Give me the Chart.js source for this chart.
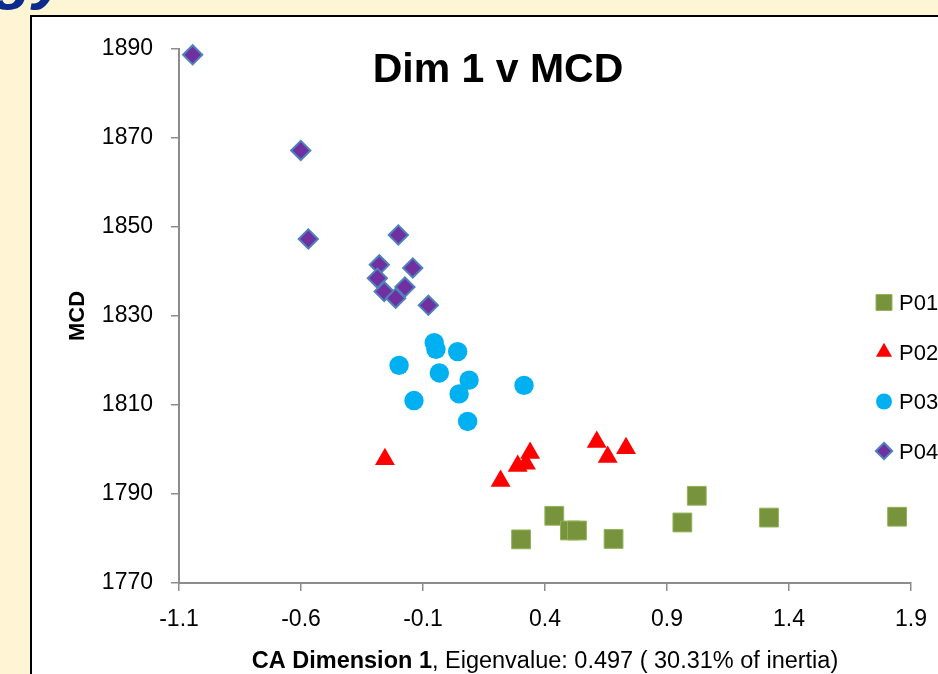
<!DOCTYPE html>
<html><head><meta charset="utf-8">
<script src="https://cdn.jsdelivr.net/npm/chart.js@4.4.1/dist/chart.umd.min.js"></script>
<style>
html,body{margin:0;padding:0;width:938px;height:674px;overflow:hidden;background:#FEF5D4;}
#slideTitle{position:absolute;left:-6px;top:-57px;font:italic bold 64px 'Liberation Sans',Arial,sans-serif;line-height:64px;color:#0B2C8C;white-space:nowrap;}
#box{position:absolute;left:30px;top:15px;width:1000px;height:700px;background:#fff;border:2px solid #000;}
#c{position:absolute;left:0;top:0;}
</style></head><body>
<div id="slideTitle">gy</div>
<div id="box"></div>
<canvas id="c" width="938" height="674"></canvas>
<script>
// ---- data ----
const seriesNames = ['P01', 'P02', 'P03', 'P04'];
const p01X = [0.302, 0.438, 0.502, 0.531, 0.681, 0.963, 1.022, 1.318, 1.843];
const p01Y = [1779.8, 1785.1, 1781.8, 1781.8, 1779.9, 1783.6, 1789.6, 1784.7, 1784.9];
const p02X = [-0.256, 0.218, 0.288, 0.322, 0.339, 0.612, 0.657, 0.732];
const p02Y = [1797.8, 1792.9, 1796.3, 1796.8, 1799.2, 1801.7, 1798.3, 1800.3];
const p03X = [-0.054, -0.047, 0.042, -0.198, -0.033, 0.089, 0.048, -0.137, 0.083, 0.314];
const p03Y = [1824.0, 1822.5, 1822.0, 1818.9, 1817.2, 1815.6, 1812.5, 1811.0, 1806.3, 1814.4];
const p04X = [-1.044, -0.601, -0.570, -0.201, -0.279, -0.142, -0.287, -0.259, -0.174, -0.212, -0.078];
const p04Y = [1888.7, 1867.2, 1847.3, 1848.2, 1841.5, 1840.8, 1838.5, 1835.5, 1836.5, 1834.0, 1832.4];
const xTicks = [-1.1, -0.6, -0.1, 0.4, 0.9, 1.4, 1.9];
const yTicks = [1770, 1790, 1810, 1830, 1850, 1870, 1890];
const chartTitle = 'Dim 1 v MCD';
const yTitle = 'MCD';
const xTitleBold = 'CA Dimension 1';
const xTitleRest = ', Eigenvalue: 0.497 ( 30.31% of inertia)';

const FAM = "'Liberation Sans', Arial, sans-serif";
const pts = (xs, ys) => xs.map((x, i) => ({x: x, y: ys[i]}));

const styles = [
  {pointStyle: 'rect', pointRadius: 13.3, pointBackgroundColor: '#77933C', pointBorderColor: '#93B35A', pointBorderWidth: 1, legendRadius: 11.3, order: 3},
  {pointStyle: 'triangle', pointRadius: 11.5, pointBackgroundColor: '#FF0000', pointBorderColor: '#FF0000', pointBorderWidth: 0, legendRadius: 9.3, order: 2},
  {pointStyle: 'circle', pointRadius: 9.7, pointBackgroundColor: '#00B0F0', pointBorderColor: '#00B0F0', pointBorderWidth: 0, legendRadius: 8, order: 1},
  {pointStyle: 'rectRot', pointRadius: 9.6, pointBackgroundColor: '#7030A0', pointBorderColor: '#4F81BD', pointBorderWidth: 2, legendRadius: 8.2, order: 0}
];
const seriesData = [pts(p01X, p01Y), pts(p02X, p02Y), pts(p03X, p03Y), pts(p04X, p04Y)];

const datasets = seriesNames.map((name, i) => Object.assign({
  label: name,
  data: seriesData[i],
  showLine: false,
  clip: false,
  pointHoverRadius: styles[i].pointRadius
}, styles[i]));

function drawMarker(ctx, style, r, bw, fill, stroke, x, y) {
  ctx.beginPath();
  if (style === 'rect') {
    const s = Math.SQRT1_2 * r;
    ctx.rect(x - s, y - s, 2 * s, 2 * s);
  } else if (style === 'triangle') {
    let a = 0;
    ctx.moveTo(x + Math.sin(a) * r, y - Math.cos(a) * r);
    a += 2 * Math.PI / 3;
    ctx.lineTo(x + Math.sin(a) * r, y - Math.cos(a) * r);
    a += 2 * Math.PI / 3;
    ctx.lineTo(x + Math.sin(a) * r, y - Math.cos(a) * r);
    ctx.closePath();
  } else if (style === 'circle') {
    ctx.arc(x, y, r, 0, Math.PI * 2);
    ctx.closePath();
  } else {
    ctx.moveTo(x, y - r); ctx.lineTo(x + r, y); ctx.lineTo(x, y + r); ctx.lineTo(x - r, y);
    ctx.closePath();
  }
  ctx.fillStyle = fill; ctx.fill();
  if (bw > 0) { ctx.lineWidth = bw; ctx.strokeStyle = stroke; ctx.stroke(); }
}

const overlay = {
  id: 'overlay',
  afterDraw(chart) {
    const ctx = chart.ctx, ca = chart.chartArea;
    ctx.save();
    ctx.fillStyle = '#000';
    ctx.textAlign = 'center';
    ctx.textBaseline = 'alphabetic';
    ctx.font = 'bold 41px ' + FAM;
    ctx.fillText(chartTitle, 498, 81.5);
    ctx.save();
    ctx.translate(83.5, (ca.top + ca.bottom) / 2);
    ctx.rotate(-Math.PI / 2);
    ctx.font = 'bold 22px ' + FAM;
    ctx.fillText(yTitle, 0, 0);
    ctx.restore();
    ctx.font = 'bold 23.5px ' + FAM;
    const w1 = ctx.measureText(xTitleBold).width;
    ctx.font = '23.5px ' + FAM;
    const w2 = ctx.measureText(xTitleRest).width;
    const sx = (ca.left + ca.right) / 2 - (w1 + w2) / 2;
    ctx.textAlign = 'left';
    ctx.font = 'bold 23.5px ' + FAM;
    ctx.fillText(xTitleBold, sx, 668);
    ctx.font = '23.5px ' + FAM;
    ctx.fillText(xTitleRest, sx + w1, 668);
    chart.data.datasets.forEach((ds, i) => {
      const cy = 302.5 + i * 49.5;
      drawMarker(ctx, ds.pointStyle, ds.legendRadius, ds.pointBorderWidth, ds.pointBackgroundColor, ds.pointBorderColor, 884, cy);
      ctx.fillStyle = '#000';
      ctx.font = '22px ' + FAM;
      ctx.textAlign = 'left';
      ctx.fillText(ds.label, 899, cy + 7.9);
    });
    ctx.restore();
  }
};

new Chart(document.getElementById('c'), {
  type: 'scatter',
  data: {datasets: datasets},
  options: {
    responsive: false,
    animation: false,
    events: [],
    layout: {padding: {left: 0, top: 49, right: 27, bottom: 0}},
    plugins: {legend: {display: false}, tooltip: {enabled: false}, title: {display: false}},
    scales: {
      x: {
        type: 'linear', position: 'bottom', min: -1.1, max: 1.9,
        afterBuildTicks: s => { s.ticks = xTicks.map(v => ({value: v})); },
        afterFit: s => { s.height = 91; s.paddingLeft = 0; s.paddingRight = 0; },
        ticks: {callback: v => Number(v).toFixed(1), font: {family: FAM, size: 23}, color: '#000', padding: 15, maxRotation: 0, autoSkip: false},
        grid: {drawOnChartArea: false, drawTicks: true, tickLength: 8, color: '#8C8C8C', lineWidth: 1.5},
        border: {display: true, color: '#8C8C8C', width: 2}
      },
      y: {
        type: 'linear', position: 'left', min: 1770, max: 1890,
        afterBuildTicks: s => { s.ticks = yTicks.map(v => ({value: v})); },
        afterFit: s => { s.width = 179; s.paddingTop = 0; s.paddingBottom = 0; },
        ticks: {callback: v => String(v), font: {family: FAM, size: 23}, color: '#000', padding: 18, autoSkip: false},
        grid: {drawOnChartArea: false, drawTicks: true, tickLength: 8, color: '#8C8C8C', lineWidth: 1.5},
        border: {display: true, color: '#8C8C8C', width: 2}
      }
    }
  },
  plugins: [overlay]
});
</script>
</body></html>
